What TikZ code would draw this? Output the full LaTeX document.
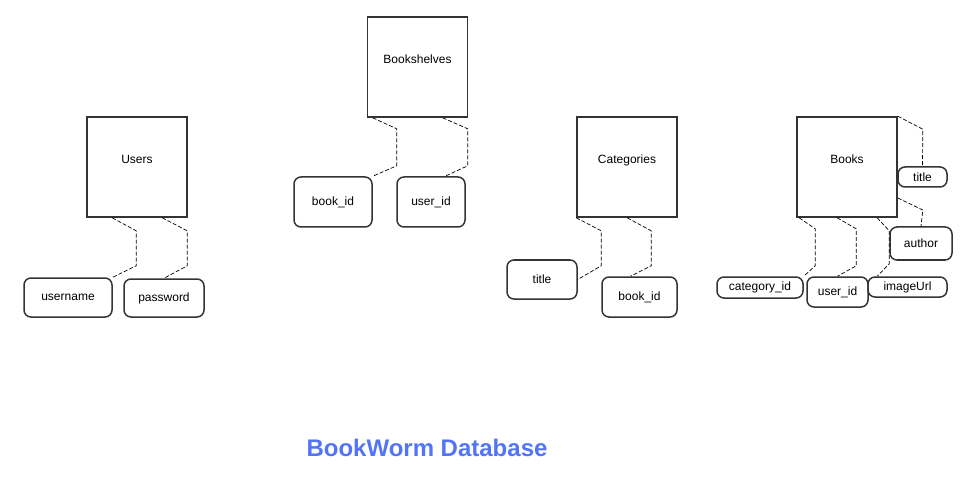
\documentclass[tikz,border=0pt]{standalone}
\usepackage{fontspec}
\setmainfont{Liberation Sans}
\usepackage{tikz}

\definecolor{edgegray}{HTML}{333333}
\definecolor{titleblue}{RGB}{82,116,245}

\begin{document}
\begin{tikzpicture}[x=1pt, y=-1pt,
	every node/.style={font=\fontsize{12}{14}\selectfont},
	table/.style={draw=edgegray, line width=1.6pt, minimum width=100pt, minimum height=100pt, inner sep=0pt, text height=8pt, text depth=14pt},
	field/.style={draw=edgegray, line width=1.5pt, rounded corners=7pt, inner sep=0pt},
	link/.style={draw=black, line width=0.7pt, dash pattern=on 4pt off 2pt}]
			\useasboundingbox (0,0) rectangle (980,481);

			\node (users) [table] at (137,167) {Users};
			\node (uname) [field, minimum width=88pt, minimum height=39pt] at (68,297.5) {username};
			\node (pwd) [field, minimum width=80pt, minimum height=38pt] at (164,298) {password};

			\node (shelves) [table] at (417.5,67) {Bookshelves};
			\node (shbook) [field, minimum width=78pt, minimum height=50pt] at (333,202) {book\_id};
			\node (shuser) [field, minimum width=68pt, minimum height=50pt] at (431,202) {user\_id};

			\node (cats) [table] at (627,167) {Categories};
			\node (cattitle) [field, minimum width=70pt, minimum height=39pt] at (542,279.5) {title};
			\node (catbook) [field, minimum width=75pt, minimum height=40pt] at (639.5,297) {book\_id};

			\node (books) [table] at (847,167) {Books};
			\node (bktitle) [field, minimum width=49pt, minimum height=20pt] at (922.5,177) {title};
			\node (bkauthor) [field, minimum width=62pt, minimum height=33pt] at (921,243.5) {author};
			\node (bkcat) [field, minimum width=86pt, minimum height=21pt] at (760,287.5) {category\_id};
			\node (bkuser) [field, minimum width=61pt, minimum height=30pt] at (837.5,292) {user\_id};
			\node (bkimg) [field, minimum width=79pt, minimum height=20pt] at (907.5,287) {imageUrl};

			\node (dbtitle) [font=\fontsize{24}{28}\selectfont\bfseries, text=titleblue] at (427,448) {BookWorm Database};

			\path[link] ([xshift=26pt]users.south west) -- ++(24,13) -- ++(0,35) -- (uname.north east);
			\path[link] ([xshift=76pt]users.south west) -- ++(25,13) -- ++(0,35) -- (pwd.north);

			\path[link] ([xshift=6pt]shelves.south west) -- ++(24,11) -- ++(0,37) -- (shbook.north east);
			\path[link] ([xshift=76pt]shelves.south west) -- ++(25,11) -- ++(0,37) -- ([xshift=14pt]shuser.north);

			\path[link] (cats.south west) -- ++(25,13) -- ++(0,35) -- (cattitle.east);
			\path[link] ([xshift=51pt]cats.south west) -- ++(24,13) -- ++(0,35) -- ([xshift=-9pt]catbook.north);

			\path[link] (books.north east) -- ++(25,13) -- (bktitle.north);
			\path[link] ([yshift=-31pt]books.east) -- ++(25,12) -- (bkauthor.north);
			\path[link] ([xshift=3pt]books.south west) -- ++(16,11) -- ++(0,37) -- (bkcat.north east);
			\path[link] ([xshift=41pt]books.south west) -- ++(19,11) -- ++(0,37) -- (bkuser.north);
			\path[link] ([xshift=81pt]books.south west) -- ++(12,13) -- ++(0,33) -- ([xshift=10pt]bkimg.north west);
\end{tikzpicture}
\end{document}
